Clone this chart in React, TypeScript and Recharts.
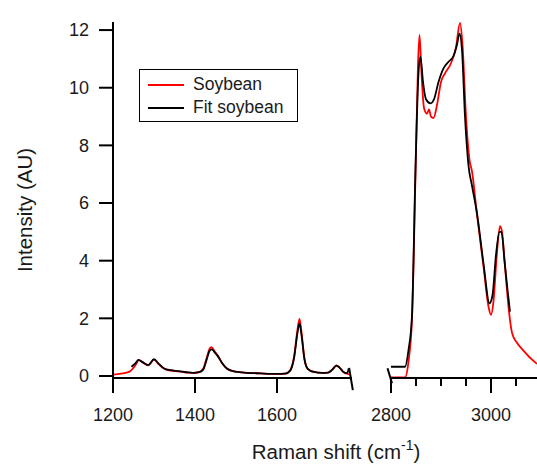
import React from 'react';
import { LineChart, Line, XAxis, YAxis, Legend, ReferenceLine, Label } from 'recharts';

// Low-wavenumber region (1200-1780 cm-1)
const soyLowX = [1200, 1220, 1240, 1255, 1263, 1272, 1286, 1300, 1312, 1325, 1340, 1360, 1380, 1395, 1410, 1420, 1428, 1436, 1440, 1448, 1456, 1466, 1478, 1495, 1520, 1560, 1600, 1620, 1632, 1642, 1650, 1655, 1660, 1667, 1675, 1690, 1710, 1725, 1735, 1745, 1752, 1762, 1775, 1780];
const soyLowY = [0.05, 0.08, 0.15, 0.38, 0.55, 0.48, 0.37, 0.57, 0.4, 0.25, 0.19, 0.16, 0.12, 0.1, 0.13, 0.25, 0.6, 0.95, 1.0, 0.85, 0.7, 0.45, 0.25, 0.16, 0.12, 0.09, 0.07, 0.08, 0.2, 0.7, 1.6, 1.98, 1.5, 0.6, 0.25, 0.14, 0.11, 0.12, 0.22, 0.37, 0.3, 0.14, 0.06, 0.04];
const fitLowX = [1245, 1255, 1262, 1272, 1286, 1300, 1312, 1325, 1340, 1360, 1380, 1395, 1410, 1420, 1428, 1436, 1441, 1448, 1456, 1466, 1478, 1495, 1520, 1560, 1600, 1620, 1632, 1642, 1650, 1655, 1660, 1667, 1675, 1690, 1710, 1725, 1735, 1745, 1752, 1762, 1770, 1772, 1775];
const fitLowY = [0.32, 0.45, 0.56, 0.48, 0.38, 0.58, 0.42, 0.26, 0.2, 0.17, 0.13, 0.11, 0.13, 0.22, 0.55, 0.88, 0.92, 0.82, 0.68, 0.45, 0.26, 0.16, 0.12, 0.09, 0.07, 0.08, 0.18, 0.65, 1.5, 1.83, 1.4, 0.58, 0.25, 0.14, 0.11, 0.12, 0.22, 0.36, 0.3, 0.14, 0.1, 0.12, 0.26];

// High-wavenumber region (2800-3092 cm-1)
const soyHighX = [2800, 2828, 2835, 2842, 2849, 2854, 2857, 2861, 2866, 2872, 2876, 2880, 2885, 2892, 2900, 2908, 2920, 2930, 2938, 2943, 2950, 2957, 2962, 2972, 2985, 2995, 3000, 3005, 3012, 3018, 3022, 3028, 3035, 3042, 3052, 3065, 3080, 3092];
const soyHighY = [-0.05, -0.05, 0.5, 2.0, 7.0, 10.8, 11.83, 10.5, 9.3, 9.1, 9.25, 9.0, 8.95, 9.4, 10.2, 10.5, 10.85, 11.4, 12.25, 11.5, 9.0, 7.5, 7.1, 5.6, 3.8, 2.4, 2.12, 2.6, 4.3, 5.2, 5.0, 3.8, 2.4, 1.5, 1.15, 0.88, 0.6, 0.42];
const fitHighX = [2800, 2828, 2835, 2842, 2849, 2855, 2859, 2864, 2870, 2879, 2886, 2895, 2905, 2915, 2925, 2932, 2937, 2942, 2948, 2955, 2962, 2972, 2985, 2997, 3003, 3010, 3017, 3021, 3027, 3033, 3038];
const fitHighY = [0.32, 0.32, 0.9, 2.1, 7.2, 10.5, 11.08, 10.2, 9.6, 9.46, 9.6, 10.2, 10.67, 10.9, 11.1, 11.5, 11.88, 11.3, 9.0, 7.3, 6.6, 5.64, 3.9, 2.52, 2.8, 4.2, 5.0, 5.0, 4.0, 3.0, 2.23];

const yTicks = [0, 2, 4, 6, 8, 10, 12];
const lowTicks = [1200, 1400, 1600];
const highTicks = [2800, 2850, 2900, 2950, 3000, 3050];
const highLabels = [2800, 3000];

const seriesNames = ['Soybean', 'Fit soybean'];
const seriesColors = ['#ff0000', '#000000'];

const toPoints = (xs: number[], ys: number[]) => xs.map((x, i) => ({ x, y: ys[i] }));

const soyLow = toPoints(soyLowX, soyLowY);
const fitLow = toPoints(fitLowX, fitLowY);
const soyHigh = toPoints(soyHighX, soyHighY);
const fitHigh = toPoints(fitHighX, fitHighY);

const W = 537;
const H = 472;
const Y_DOMAIN: [number, number] = [-0.07, 12.28];
const FONT = '"Liberation Sans", Arial, Helvetica, sans-serif';
const TEXT = '#1a1a1a';
const TICK_FS = 18;
const TITLE_FS = 20.5;
const axisStyle = { stroke: '#000', strokeWidth: 2 };

const HighTick = (props: any) => {
  const { x, y, payload } = props;
  const major = highLabels.includes(payload.value);
  return (
    <g>
      <line x1={x} x2={x} y1={y} y2={y + (major ? 15 : 8)} stroke="#000" strokeWidth={2} />
      {major && (
        <text x={x} y={y + 30} dy="0.71em" textAnchor="middle" fontSize={TICK_FS} fill={TEXT} fontFamily={FONT}>
          {payload.value}
        </text>
      )}
    </g>
  );
};

const LegendBox = () => (
  <div
    style={{
      boxSizing: 'border-box',
      width: 159,
      height: 53,
      border: '1.5px solid #000',
      background: '#fff',
      fontFamily: FONT,
      fontSize: 17.5,
      color: TEXT,
      padding: '3px 0 0 8px',
      lineHeight: '23px',
    }}
  >
    {seriesNames.map((n, i) => (
      <div key={n} style={{ display: 'flex', alignItems: 'center', height: 23 }}>
        <svg width={36} height={4} style={{ marginRight: 9 }}>
          <line x1={0} x2={36} y1={2} y2={2} stroke={seriesColors[i]} strokeWidth={1.8} />
        </svg>
        <span>{n}</span>
      </div>
    ))}
  </div>
);

export default function App() {
  return (
    <div style={{ position: 'absolute', left: 0, top: 0, width: W, height: H, background: '#fff', fontFamily: FONT }}>
      <div style={{ position: 'absolute', left: 0, top: 0 }}>
        <LineChart width={W} height={H} margin={{ top: 22, right: W - 352, bottom: 64, left: 0 }}>
          <XAxis
            dataKey="x"
            type="number"
            domain={[1200, 1783]}
            ticks={lowTicks}
            allowDataOverflow
            height={30}
            axisLine={axisStyle}
            tickLine={axisStyle}
            tickSize={15}
            tickMargin={15}
            tick={{ fontSize: TICK_FS, fill: TEXT, fontFamily: FONT }}
          >
            <Label
              content={() => (
                <text x={336} y={459} textAnchor="middle" fontSize={TITLE_FS} fill={TEXT} fontFamily={FONT}>
                  Raman shift (cm
                  <tspan dy={-9} fontSize={14}>-1</tspan>
                  <tspan dy={9}>)</tspan>
                </text>
              )}
            />
          </XAxis>
          <YAxis
            type="number"
            domain={Y_DOMAIN}
            ticks={yTicks}
            allowDataOverflow
            width={113}
            axisLine={axisStyle}
            tickLine={axisStyle}
            tickSize={14}
            tickMargin={10}
            tick={{ fontSize: TICK_FS, fill: TEXT, fontFamily: FONT }}
          >
            <Label
              content={(p: any) => {
                const vb = p.viewBox || { x: 0, y: 22, width: 113, height: 356 };
                const cx = vb.x + 24;
                const cy = vb.y + vb.height / 2 + 10;
                return (
                  <text
                    x={cx}
                    y={cy}
                    transform={`rotate(-90, ${cx}, ${cy})`}
                    textAnchor="middle"
                    dominantBaseline="central"
                    fontSize={TITLE_FS}
                    fill={TEXT}
                    fontFamily={FONT}
                  >
                    Intensity (AU)
                  </text>
                );
              }}
            />
          </YAxis>
          <Line data={soyLow} dataKey="y" type="monotone" stroke={seriesColors[0]} strokeWidth={1.8} dot={false} isAnimationActive={false} />
          <Line data={fitLow} dataKey="y" type="monotone" stroke={seriesColors[1]} strokeWidth={1.8} dot={false} isAnimationActive={false} />
          <ReferenceLine
            segment={[{ x: 1776, y: 0.28 }, { x: 1785, y: -0.49 }]}
            stroke="#000"
            strokeWidth={2}
            ifOverflow="visible"
          />
          <Legend
            layout="horizontal"
            verticalAlign="middle"
            align="center"
            content={() => <LegendBox />}
            wrapperStyle={{ left: 139, top: 69, width: 159, height: 53 }}
          />
        </LineChart>
      </div>
      <div style={{ position: 'absolute', left: 0, top: 0 }}>
        <LineChart width={W} height={H} margin={{ top: 22, right: 0, bottom: 64, left: 391 }}>
          <XAxis
            dataKey="x"
            type="number"
            domain={[2800, 3092]}
            ticks={highTicks}
            allowDataOverflow
            height={30}
            axisLine={axisStyle}
            tickLine={false}
            tickSize={0}
            tickMargin={0}
            tick={<HighTick />}
            interval={0}
          />
          <YAxis type="number" domain={Y_DOMAIN} hide allowDataOverflow />
          <Line data={soyHigh} dataKey="y" type="monotone" stroke={seriesColors[0]} strokeWidth={1.8} dot={false} isAnimationActive={false} />
          <Line data={fitHigh} dataKey="y" type="monotone" stroke={seriesColors[1]} strokeWidth={1.8} dot={false} isAnimationActive={false} />
          <ReferenceLine
            segment={[{ x: 2793, y: 0.27 }, { x: 2802, y: -0.25 }]}
            stroke="#000"
            strokeWidth={2}
            ifOverflow="visible"
          />
        </LineChart>
      </div>
    </div>
  );
}
